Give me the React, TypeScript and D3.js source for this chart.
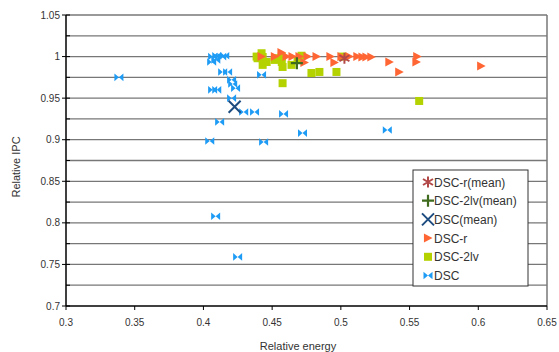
import * as d3 from "d3";

const W = 559;
const H = 352;
const margin = { left: 66, right: 11, top: 15, bottom: 46 };

// [relative energy, relative IPC]
const dscPoints: [number, number][] = [
  [0.3385, 0.975], [0.4067, 1.0], [0.4097, 1.001], [0.4133, 1.0], [0.4155, 1.001],
  [0.406, 0.9935], [0.409, 0.996], [0.414, 0.9815], [0.4176, 0.9815], [0.4205, 0.972],
  [0.4213, 0.967], [0.4234, 0.962], [0.4067, 0.96], [0.4097, 0.96], [0.4205, 0.95],
  [0.4423, 0.978], [0.4293, 0.9333], [0.4372, 0.9333], [0.4583, 0.931], [0.4118, 0.9214],
  [0.4046, 0.8985], [0.4438, 0.8973], [0.4721, 0.908], [0.5338, 0.9117], [0.4089, 0.808],
  [0.4249, 0.759],
];

const dsc2lvPoints: [number, number][] = [
  [0.4387, 1.0], [0.4423, 1.004], [0.4431, 0.9995], [0.4394, 0.998], [0.4431, 0.99],
  [0.446, 0.9935], [0.4518, 0.996], [0.454, 0.998], [0.457, 1.0], [0.457, 0.9935],
  [0.4576, 0.9875], [0.4576, 0.968], [0.4641, 0.99], [0.4685, 0.996], [0.4714, 1.001],
  [0.4786, 0.9802], [0.4844, 0.9815], [0.4968, 0.9815], [0.5011, 1.0], [0.557, 0.9466],
];

const dscrPoints: [number, number][] = [
  [0.4423, 1.0], [0.452, 1.0], [0.4568, 1.005], [0.4605, 1.0], [0.4648, 1.0],
  [0.4699, 1.0], [0.4757, 1.0], [0.4823, 1.0], [0.4735, 0.993], [0.4924, 1.0],
  [0.4953, 0.993], [0.5004, 1.0], [0.5062, 1.0], [0.512, 1.0], [0.5157, 0.9995],
  [0.5186, 0.9995], [0.5222, 0.9995], [0.5353, 0.9935], [0.5425, 0.9815], [0.5556, 1.0],
  [0.555, 0.9935], [0.6021, 0.9887],
];

const dscMean: [number, number] = [0.4227, 0.9397];
const dsc2lvMean: [number, number] = [0.468, 0.992];
const dscrMean: [number, number] = [0.5026, 0.998];

const xTicks = [0.3, 0.35, 0.4, 0.45, 0.5, 0.55, 0.6, 0.65];
const yTicks = [0.7, 0.75, 0.8, 0.85, 0.9, 0.95, 1, 1.05];
const yMinor = [0.725, 0.775, 0.825, 0.875, 0.925, 0.975, 1.025];

const legendItems = [
  { key: "rmean", label: "DSC-r(mean)" },
  { key: "lvmean", label: "DSC-2lv(mean)" },
  { key: "mean", label: "DSC(mean)" },
  { key: "r", label: "DSC-r" },
  { key: "lv", label: "DSC-2lv" },
  { key: "dsc", label: "DSC" },
];

const C = {
  dsc: "#1e9cf5",
  lv: "#b4d200",
  r: "#ff6633",
  mean: "#1d4c80",
  lvmean: "#3e6b1e",
  rmean: "#b24848",
};

const bowtie = (s: number) =>
  `M${-s},${-s * 0.85}L0,0L${-s},${s * 0.85}Z M${s},${-s * 0.85}L0,0L${s},${s * 0.85}Z`;
const triRight = (s: number) => `M${-s * 0.9},${-s}L${s},0L${-s * 0.9},${s}Z`;

function Marker({ kind, x, y }: { kind: string; x: number; y: number }) {
  const t = `translate(${x},${y})`;
  if (kind === "dsc") return <path transform={t} d={bowtie(4.5)} fill={C.dsc} />;
  if (kind === "lv") return <rect x={x - 4} y={y - 4} width={8} height={8} fill={C.lv} />;
  if (kind === "r") return <path transform={t} d={triRight(4.5)} fill={C.r} />;
  if (kind === "mean")
    return <path transform={t} d="M-6,-6L6,6M-6,6L6,-6" stroke={C.mean} strokeWidth={2} />;
  if (kind === "lvmean")
    return <path transform={t} d="M-6,0L6,0M0,-6L0,6" stroke={C.lvmean} strokeWidth={2.2} />;
  return (
    <path
      transform={t}
      d="M0,-5.5L0,5.5M-5,-3L5,3M-5,3L5,-3"
      stroke={C.rmean}
      strokeWidth={2}
    />
  );
}

export default function App() {
  const x = d3.scaleLinear().domain([0.3, 0.65]).range([margin.left, W - margin.right - 1]);
  const y = d3.scaleLinear().domain([0.7, 1.05]).range([H - margin.bottom, margin.top]);
  const fmt = (v: number) => String(+v.toFixed(3));
  const x0 = x(0.3);
  const x1 = x(0.65);
  const yb = y(0.7);

  return (
    <svg
      width={W}
      height={H}
      style={{ position: "absolute", left: 0, top: 0, background: "#fff" }}
      fontFamily="'Liberation Sans', Arial, sans-serif"
    >
      {/* gridlines */}
      {[...yTicks, ...yMinor]
        .filter((v) => v > 0.7)
        .map((v) => (
          <line key={`g${v}`} x1={x0} x2={x1} y1={y(v)} y2={y(v)} stroke="#777" strokeWidth={1.3} />
        ))}
      <line x1={x1} x2={x1} y1={y(1.05)} y2={yb} stroke="#777" strokeWidth={1.5} />

      {/* points */}
      {dscPoints.map((d, i) => (
        <Marker key={`d${i}`} kind="dsc" x={x(d[0])} y={y(d[1])} />
      ))}
      {dsc2lvPoints.map((d, i) => (
        <Marker key={`l${i}`} kind="lv" x={x(d[0])} y={y(d[1])} />
      ))}
      {dscrPoints.map((d, i) => (
        <Marker key={`r${i}`} kind="r" x={x(d[0])} y={y(d[1])} />
      ))}
      <Marker kind="mean" x={x(dscMean[0])} y={y(dscMean[1])} />
      <Marker kind="lvmean" x={x(dsc2lvMean[0])} y={y(dsc2lvMean[1])} />
      <Marker kind="rmean" x={x(dscrMean[0])} y={y(dscrMean[1])} />

      {/* axes */}
      <line x1={x0} x2={x0} y1={y(1.05)} y2={yb} stroke="#000" strokeWidth={1.5} />
      <line x1={x0} x2={x1} y1={yb} y2={yb} stroke="#000" strokeWidth={1.5} />
      {yTicks.map((v) => (
        <g key={`yt${v}`}>
          <line x1={x0 - 4} x2={x0 + 4} y1={y(v)} y2={y(v)} stroke="#000" />
          <text x={x0 - 6} y={y(v) + 3.5} textAnchor="end" fontSize={10} fill="#333">
            {fmt(v)}
          </text>
        </g>
      ))}
      {yMinor.map((v) => (
        <line key={`ym${v}`} x1={x0} x2={x0 + 4} y1={y(v)} y2={y(v)} stroke="#000" />
      ))}
      {xTicks.map((v) => (
        <g key={`xt${v}`}>
          <line x1={x(v)} x2={x(v)} y1={yb} y2={yb + 4} stroke="#000" />
          <text x={x(v)} y={yb + 20} textAnchor="middle" fontSize={10} fill="#333">
            {fmt(v)}
          </text>
        </g>
      ))}
      <text x={298} y={350} textAnchor="middle" fontSize={11} fill="#333">
        Relative energy
      </text>
      <text
        transform={`translate(20,167) rotate(-90)`}
        textAnchor="middle"
        fontSize={11}
        fill="#333"
      >
        Relative IPC
      </text>

      {/* legend */}
      <rect x={413} y={170} width={115} height={116} fill="#fff" stroke="#333" strokeWidth={1} />
      {legendItems.map((it, i) => {
        const cy = 182 + i * 18.7;
        return (
          <g key={it.key}>
            <Marker kind={it.key} x={428} y={cy} />
            <text x={434} y={cy + 4.5} fontSize={12} fill="#333">
              {it.label}
            </text>
          </g>
        );
      })}
    </svg>
  );
}
